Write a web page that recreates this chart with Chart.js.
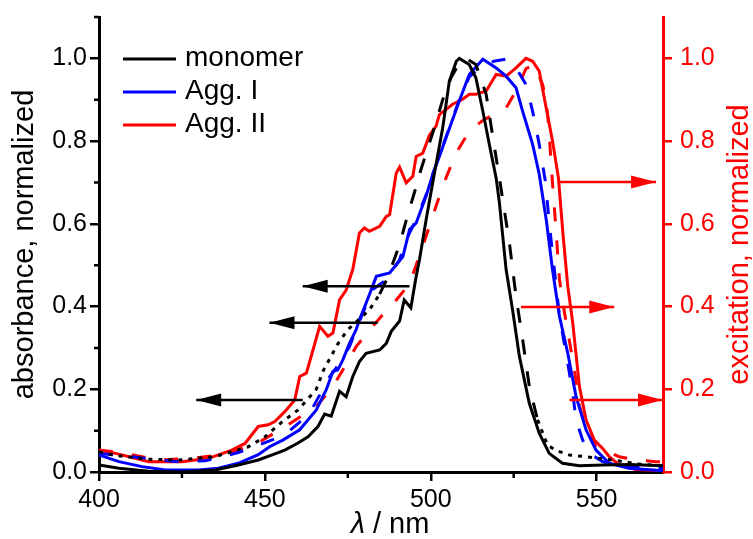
<!DOCTYPE html>
<html>
<head>
<meta charset="utf-8">
<script src="https://cdn.jsdelivr.net/npm/chart.js@4.4.1/dist/chart.umd.min.js"></script>
<style>
  body { margin: 0; background: #fff; }
  #wrap { width: 753px; height: 539px; }
</style>
</head>
<body>
<div id="wrap"><canvas id="myChart" width="753" height="539"></canvas></div>
<script>
// monomer absorbance (black solid)
const monoAbsX = [400, 406, 415, 425, 435, 442, 448, 452, 456, 460, 463, 466, 468, 470, 472.5, 474.5, 476.5, 478.5, 480.5, 484.6, 486.6, 488.1, 490.6, 492, 494, 495.6, 496.6, 498.6, 500.6, 503.6, 505.6, 507.7, 508.6, 511.6, 513.6, 515.7, 517.7, 519.7, 520.7, 522.7, 524.7, 526.7, 529.7, 532.7, 535.7, 539.7, 544.8, 551.8, 560, 570];
const monoAbsY = [0.017, 0.009, 0.002, 0.0, 0.005, 0.017, 0.029, 0.041, 0.053, 0.07, 0.085, 0.11, 0.14, 0.135, 0.195, 0.182, 0.231, 0.267, 0.287, 0.295, 0.311, 0.34, 0.365, 0.416, 0.397, 0.473, 0.513, 0.61, 0.7, 0.832, 0.945, 0.993, 1.0, 0.985, 0.953, 0.872, 0.79, 0.711, 0.65, 0.49, 0.39, 0.28, 0.166, 0.094, 0.045, 0.021, 0.015, 0.017, 0.018, 0.015];

// monomer excitation (black, dotted outside / dashed in the peak)
const monoExcX = [400, 405, 415, 424, 435, 445, 450, 455, 460, 465.5, 467.6, 472, 475, 481.5, 484.6, 487, 490.6, 493, 495.6, 497, 500.6, 503.6, 506.1, 508, 510.7, 513.6, 516.7, 518.7, 520.7, 523.7, 525.7, 527.7, 529.7, 532.2, 535.2, 537.8, 541.8, 546.8, 554.8, 563, 570];
const monoExcY = [0.049, 0.04, 0.031, 0.029, 0.037, 0.061, 0.085, 0.12, 0.15, 0.2, 0.245, 0.31, 0.344, 0.392, 0.43, 0.47, 0.55, 0.62, 0.69, 0.73, 0.82, 0.9, 0.953, 0.98, 1.0, 0.985, 0.913, 0.81, 0.71, 0.554, 0.424, 0.32, 0.207, 0.126, 0.065, 0.052, 0.041, 0.037, 0.029, 0.019, 0.015];
const monoDashRange = [484.6, 532.2];

// Agg. I absorbance (blue solid) and excitation (blue dashed)
const agg1AbsX = [400, 406, 413, 420, 430, 436, 442, 445.4, 448, 451.4, 455.4, 460.5, 465.5, 468.5, 470.5, 472, 473.5, 475.5, 477.5, 478.5, 480.5, 483.6, 487.6, 491.6, 493.6, 495.6, 498.6, 500.6, 502.6, 504.6, 508.6, 511.6, 515.7, 519.7, 522.7, 525.7, 527.7, 530.7, 532.7, 534.8, 536.7, 538.8, 541.3, 543.8, 546.8, 549.8, 553.8, 559.8, 570];
const agg1AbsY = [0.041, 0.025, 0.013, 0.005, 0.005, 0.009, 0.021, 0.033, 0.042, 0.061, 0.077, 0.102, 0.15, 0.199, 0.243, 0.247, 0.271, 0.311, 0.344, 0.368, 0.408, 0.473, 0.481, 0.521, 0.586, 0.602, 0.667, 0.72, 0.763, 0.808, 0.897, 0.961, 0.998, 0.977, 0.957, 0.929, 0.872, 0.792, 0.72, 0.61, 0.489, 0.376, 0.287, 0.182, 0.102, 0.053, 0.021, 0.009, 0.003];
const agg1ExcX = [400, 410, 418, 424, 432, 442, 452, 455.4, 463.5, 469.5, 472.5, 475.5, 479.5, 482.5, 486.6, 490.6, 492.6, 495.6, 498.6, 500.6, 504.6, 508.6, 511.6, 515, 519, 522.7, 525.7, 528.7, 530.7, 532.7, 534.5, 536, 537.8, 538.8, 541.3, 542.8, 543.8, 545.8, 547.8, 551.8, 557.8, 570];
const agg1ExcY = [0.045, 0.037, 0.029, 0.025, 0.027, 0.047, 0.077, 0.085, 0.142, 0.23, 0.263, 0.303, 0.384, 0.441, 0.465, 0.513, 0.562, 0.61, 0.67, 0.72, 0.81, 0.9, 0.955, 0.98, 0.993, 0.998, 0.977, 0.937, 0.872, 0.792, 0.705, 0.58, 0.449, 0.376, 0.263, 0.19, 0.126, 0.077, 0.045, 0.025, 0.013, 0.01];

// Agg. II absorbance (red solid) and excitation (red dashed)
const agg2AbsX = [400, 405, 410, 415, 420, 425, 433, 440, 444, 448, 451, 453, 456, 459, 460.5, 462.5, 464.5, 466.5, 469, 470.5, 472.5, 474.5, 476.5, 478.5, 480, 481.5, 484.6, 486.6, 487.6, 489.6, 490.6, 492.6, 494.6, 495.6, 497.6, 499.6, 501.6, 502.6, 506.6, 509.6, 511.6, 513.6, 516.7, 519.7, 522.7, 525.7, 528.7, 530.7, 532.7, 534.8, 536.7, 538.5, 539.8, 541.3, 542.8, 544.8, 546.8, 549.3, 551.8, 553.8, 556.8, 561.8, 570];
const agg2AbsY = [0.053, 0.045, 0.035, 0.025, 0.025, 0.025, 0.033, 0.053, 0.069, 0.11, 0.114, 0.122, 0.146, 0.174, 0.231, 0.239, 0.295, 0.352, 0.328, 0.336, 0.416, 0.44, 0.49, 0.578, 0.59, 0.582, 0.594, 0.618, 0.622, 0.723, 0.737, 0.699, 0.715, 0.763, 0.771, 0.814, 0.836, 0.864, 0.889, 0.901, 0.913, 0.913, 0.921, 0.961, 0.957, 0.977, 1.0, 0.993, 0.969, 0.88, 0.8, 0.71, 0.58, 0.449, 0.36, 0.207, 0.126, 0.077, 0.057, 0.037, 0.017, 0.006, 0.003];
const agg2ExcX = [400, 408, 413, 418, 428, 435, 440.4, 448.4, 455.4, 460, 465.5, 470.5, 473, 477.5, 482.5, 486, 489.6, 493.6, 497.6, 501.6, 504.6, 507.7, 511.6, 515.7, 519, 522.7, 525.7, 528.7, 531.2, 533.7, 534.8, 535.6, 536.5, 537.8, 538.8, 540, 541.5, 543.3, 544.8, 547, 549.8, 556.8, 561.8, 567.8, 570];
const agg2ExcY = [0.053, 0.045, 0.037, 0.029, 0.033, 0.04, 0.049, 0.073, 0.106, 0.13, 0.158, 0.207, 0.24, 0.303, 0.352, 0.385, 0.416, 0.455, 0.546, 0.643, 0.711, 0.772, 0.824, 0.85, 0.865, 0.88, 0.921, 0.975, 0.985, 0.937, 0.9, 0.83, 0.72, 0.58, 0.465, 0.4, 0.33, 0.247, 0.16, 0.1, 0.061, 0.037, 0.029, 0.025, 0.025];

// arrows: left-pointing (absorbance axis) and right-pointing (excitation axis)
const leftArrowY = [0.449, 0.361, 0.174];
const leftArrowFrom = [493.6, 484, 461.4];
const leftArrowTo = [461.4, 451.4, 429.3];
const rightArrowY = [0.701, 0.399, 0.174];
const rightArrowFrom = [538.8, 527.2, 541.8];
const rightArrowTo = [567.9, 555.3, 570];

const yMinorTicks = [0.1, 0.3, 0.5, 0.7, 0.9, 1.1];
const xMinorTicks = [425, 475, 525];

const FONT = '"Liberation Sans", Arial, sans-serif';
const RED = '#ff0000', BLUE = '#0000ff', BLACK = '#000000';

function pts(xs, ys) {
  return xs.map((x, i) => ({ x: x, y: ys[i] }));
}

function arrowSet(from, to, y, color, axis) {
  return {
    data: [{ x: from, y: y }, { x: to, y: y }],
    borderColor: color,
    borderWidth: 2.5,
    pointRadius: 0,
    yAxisID: axis,
    arrowHead: true
  };
}

const datasets = [];
leftArrowY.forEach((y, i) => datasets.push(arrowSet(leftArrowFrom[i], leftArrowTo[i], y, BLACK, 'y')));
rightArrowY.forEach((y, i) => datasets.push(arrowSet(rightArrowFrom[i], rightArrowTo[i], y, RED, 'y2')));

datasets.push({ label: 'monomer', legendLabel: 'monomer', data: pts(monoAbsX, monoAbsY), borderColor: BLACK, borderWidth: 3, pointRadius: 0, yAxisID: 'y' });
datasets.push({
  label: 'monomer exc', data: pts(monoExcX, monoExcY), borderColor: BLACK, borderWidth: 3, pointRadius: 0, yAxisID: 'y2',
  borderDash: [4, 6],
  segment: {
    borderDash: ctx => (ctx.p0.parsed.x >= monoDashRange[0] && ctx.p1.parsed.x <= monoDashRange[1]) ? [15, 17] : [4, 6]
  }
});
datasets.push({ label: 'Agg. I', legendLabel: 'Agg. I', data: pts(agg1AbsX, agg1AbsY), borderColor: BLUE, borderWidth: 3, pointRadius: 0, yAxisID: 'y' });
datasets.push({ label: 'Agg. I exc', data: pts(agg1ExcX, agg1ExcY), borderColor: BLUE, borderWidth: 3, pointRadius: 0, yAxisID: 'y2', borderDash: [14, 19] });
datasets.push({ label: 'Agg. II', legendLabel: 'Agg. II', data: pts(agg2AbsX, agg2AbsY), borderColor: RED, borderWidth: 3, pointRadius: 0, yAxisID: 'y' });
datasets.push({ label: 'Agg. II exc', data: pts(agg2ExcX, agg2ExcY), borderColor: RED, borderWidth: 3, pointRadius: 0, yAxisID: 'y2', borderDash: [14, 19] });

const arrowHeads = {
  id: 'arrowHeads',
  afterDatasetsDraw(chart) {
    const ctx = chart.ctx;
    chart.data.datasets.forEach((ds, i) => {
      if (!ds.arrowHead) return;
      const p = chart.getDatasetMeta(i).data;
      const tip = p[p.length - 1], base = p[p.length - 2];
      const ang = Math.atan2(tip.y - base.y, tip.x - base.x);
      ctx.save();
      ctx.translate(tip.x, tip.y);
      ctx.rotate(ang);
      ctx.beginPath();
      ctx.moveTo(0, 0);
      ctx.lineTo(-25, -6.5);
      ctx.lineTo(-25, 6.5);
      ctx.closePath();
      ctx.fillStyle = ds.borderColor;
      ctx.fill();
      ctx.restore();
    });
  }
};

const extras = {
  id: 'extras',
  afterDraw(chart) {
    const { ctx, chartArea, scales } = chart;
    ctx.save();
    // minor ticks
    ctx.strokeStyle = BLACK;
    ctx.lineWidth = 2.5;
    ctx.beginPath();
    yMinorTicks.forEach(v => {
      const py = scales.y.getPixelForValue(v);
      ctx.moveTo(chartArea.left, py);
      ctx.lineTo(chartArea.left - 5, py);
    });
    xMinorTicks.forEach(v => {
      const px = scales.x.getPixelForValue(v);
      ctx.moveTo(px, chartArea.bottom);
      ctx.lineTo(px, chartArea.bottom + 6);
    });
    ctx.stroke();

    // legend inside plot
    let row = 0;
    ctx.font = '28px ' + FONT;
    ctx.textBaseline = 'middle';
    ctx.textAlign = 'left';
    chart.data.datasets.forEach(ds => {
      if (!ds.legendLabel) return;
      const y = chartArea.top + 42 + row * 33;
      const x0 = chartArea.left + 24;
      ctx.strokeStyle = ds.borderColor;
      ctx.lineWidth = 3;
      ctx.beginPath();
      ctx.moveTo(x0, y);
      ctx.lineTo(x0 + 53, y);
      ctx.stroke();
      ctx.fillStyle = BLACK;
      ctx.fillText(ds.legendLabel, x0 + 62, y - 1);
      row++;
    });

    // right axis title (reads bottom to top)
    ctx.save();
    ctx.translate(740, (chartArea.top + chartArea.bottom) / 2);
    ctx.rotate(-Math.PI / 2);
    ctx.font = '29px ' + FONT;
    ctx.fillStyle = RED;
    ctx.textAlign = 'center';
    ctx.textBaseline = 'middle';
    ctx.fillText('excitation, normalized', 0, 0);
    ctx.restore();

    // x axis title with italic lambda
    const lam = '\u03bb', rest = ' / nm';
    ctx.font = 'italic 29px ' + FONT;
    const w1 = ctx.measureText(lam).width;
    ctx.font = '29px ' + FONT;
    const w2 = ctx.measureText(rest).width;
    const cx = (chartArea.left + chartArea.right) / 2 + 9;
    const x0 = cx - (w1 + w2) / 2;
    ctx.fillStyle = BLACK;
    ctx.textAlign = 'left';
    ctx.textBaseline = 'middle';
    ctx.font = 'italic 29px ' + FONT;
    ctx.fillText(lam, x0, 525);
    ctx.font = '29px ' + FONT;
    ctx.fillText(rest, x0 + w1, 525);
    ctx.restore();
  }
};

function fixY(width) {
  return s => { s.width = width; s.paddingTop = 0; s.paddingBottom = 0; };
}

const ctx = document.getElementById('myChart').getContext('2d');
const myChart = new Chart(ctx, {
  type: 'line',
  data: { datasets: datasets },
  options: {
    responsive: false,
    animation: false,
    layout: { padding: { top: 17, left: 0, right: 0, bottom: 0 } },
    elements: { line: { tension: 0 } },
    plugins: { legend: { display: false }, tooltip: { enabled: false } },
    scales: {
      x: {
        type: 'linear',
        min: 400,
        max: 570,
        afterFit: s => { s.height = 67; s.paddingLeft = 0; s.paddingRight = 0; },
        border: { color: BLACK, width: 3 },
        grid: { drawOnChartArea: false, color: BLACK, lineWidth: 2.5, tickLength: 9 },
        ticks: { stepSize: 50, includeBounds: false, color: BLACK, padding: 4, font: { family: FONT, size: 25 } }
      },
      y: {
        position: 'left',
        min: 0,
        max: 1.1,
        afterFit: fixY(99),
        border: { color: BLACK, width: 3 },
        grid: { drawOnChartArea: false, color: BLACK, lineWidth: 2.5, tickLength: 9 },
        ticks: { stepSize: 0.2, includeBounds: false, color: BLACK, padding: 3, font: { family: FONT, size: 25 }, callback: v => v.toFixed(1) },
        title: { display: true, text: 'absorbance, normalized', color: BLACK, font: { family: FONT, size: 29 }, padding: { top: 8, bottom: 0 } }
      },
      y2: {
        position: 'right',
        min: 0,
        max: 1.1,
        afterFit: fixY(90),
        border: { color: RED, width: 3 },
        grid: { drawOnChartArea: false, color: RED, lineWidth: 2.5, tickLength: 9 },
        ticks: { stepSize: 0.2, includeBounds: false, color: RED, padding: 8, font: { family: FONT, size: 25 }, callback: v => v.toFixed(1) }
      }
    }
  },
  plugins: [arrowHeads, extras]
});
</script>
</body>
</html>
